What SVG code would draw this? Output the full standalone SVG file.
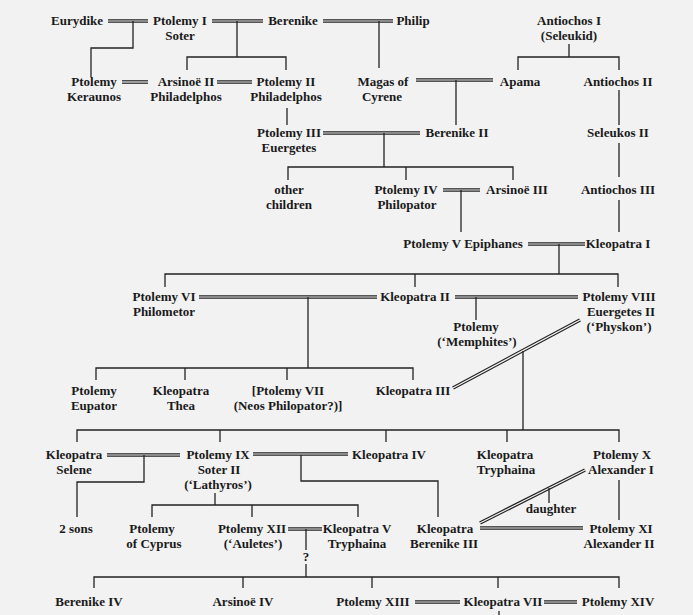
<svg xmlns="http://www.w3.org/2000/svg" xmlns:xlink="http://www.w3.org/1999/xlink" width="693" height="615" viewBox="0 0 693 615">
<style>
text { font-family: "Liberation Serif", "Times New Roman", serif; font-size: 13px; font-weight: bold; fill: #1a1a1a; text-anchor: middle; }
.single { fill: none; stroke: #222; stroke-width: 1.3; }
.dblOuter { fill: none; stroke: #222; stroke-width: 3.6; }
.dblInner { fill: none; stroke: #f2f2f2; stroke-width: 1.2; }
</style>
<defs>
<g id="marriages">
<path d="M108 21 H148"/>
<path d="M212 21 H263"/>
<path d="M323 21 H393"/>
<path d="M122 82 H148"/>
<path d="M217 82 H252"/>
<path d="M416 80 H493"/>
<path d="M323 133 H420"/>
<path d="M443 190 H480"/>
<path d="M528 244 H585"/>
<path d="M199 297 H377"/>
<path d="M455 297 H578"/>
<path d="M453 388 L580 320"/>
<path d="M107 455 H180"/>
<path d="M253 454 H348"/>
<path d="M288 529 H322"/>
<path d="M480 523 L585 470"/>
<path d="M480 528 H583"/>
<path d="M415 602 H460"/>
<path d="M544 602 H577"/>
</g>
</defs>
<rect width="693" height="615" fill="#f2f2f2"/>
<g id="connectors">
<use xlink:href="#marriages" href="#marriages" class="dblOuter"/>
<use xlink:href="#marriages" href="#marriages" class="dblInner"/>
<g class="single">
<path d="M133 21 V48 H91 V77"/>
<path d="M237 21 V57 M187 70 V57 H286 V70"/>
<path d="M379 21 V68"/>
<path d="M569 44 V57 M518 70 V57 H619 V70"/>
<path d="M287 108 V125"/>
<path d="M456 80 V125"/>
<path d="M619 90 V125"/>
<path d="M384 133 V167 M288 180 V167 H513 V180 M406 167 V180"/>
<path d="M619 143 V177"/>
<path d="M461 190 V232"/>
<path d="M619 200 V232"/>
<path d="M559 244 V274 M165 287 V274 H618 V287 M415 274 V287"/>
<path d="M308 297 V368 M96 380 V368 H413 V380 M185 368 V380 M287 368 V380"/>
<path d="M476 297 V320"/>
<path d="M523 351 V430 M77 442 V430 H619 V442 M220 430 V442 M386 430 V442 M507 430 V442"/>
<path d="M144 455 V482 H77 V517"/>
<path d="M301 455 V481 H438 V517"/>
<path d="M215 493 V505 M152 517 V505 H358 V517 M252 505 V517"/>
<path d="M306 529 V550 M306 564 V577 M94 588 V577 H619 V588 M243 577 V588 M372 577 V588 M498 577 V588"/>
<path d="M549 488 V503"/>
<path d="M619 480 V520"/>
<path d="M499 611 V615"/>
</g>
</g>
<g id="eurydike"><text x="77" y="25">Eurydike</text></g>
<g id="ptolemy1"><text x="180" y="25">Ptolemy I<tspan x="180" dy="15">Soter</tspan></text></g>
<g id="berenike"><text x="293" y="25">Berenike</text></g>
<g id="philip"><text x="413" y="25">Philip</text></g>
<g id="antiochos1"><text x="569" y="25">Antiochos I<tspan x="569" dy="15">(Seleukid)</tspan></text></g>
<g id="keraunos"><text x="94" y="86">Ptolemy<tspan x="94" dy="15">Keraunos</tspan></text></g>
<g id="arsinoe2"><text x="186" y="86">Arsinoë II<tspan x="186" dy="15">Philadelphos</tspan></text></g>
<g id="ptolemy2"><text x="286" y="86">Ptolemy II<tspan x="286" dy="15">Philadelphos</tspan></text></g>
<g id="magas"><text x="383" y="86">Magas of<tspan x="382" dy="15">Cyrene</tspan></text></g>
<g id="apama"><text x="520" y="86">Apama</text></g>
<g id="antiochos2"><text x="618" y="86">Antiochos II</text></g>
<g id="ptolemy3"><text x="289" y="137">Ptolemy III<tspan x="289" dy="15">Euergetes</tspan></text></g>
<g id="berenike2"><text x="457" y="137">Berenike II</text></g>
<g id="seleukos2"><text x="618" y="137">Seleukos II</text></g>
<g id="otherChildren"><text x="289" y="194">other<tspan x="289" dy="15">children</tspan></text></g>
<g id="ptolemy4"><text x="406" y="194">Ptolemy IV<tspan x="407" dy="15">Philopator</tspan></text></g>
<g id="arsinoe3"><text x="517" y="194">Arsinoë III</text></g>
<g id="antiochos3"><text x="618" y="194">Antiochos III</text></g>
<g id="ptolemy5"><text x="463" y="248">Ptolemy V Epiphanes</text></g>
<g id="kleopatra1"><text x="618" y="248">Kleopatra I</text></g>
<g id="ptolemy6"><text x="164" y="301">Ptolemy VI<tspan x="164" dy="15">Philometor</tspan></text></g>
<g id="kleopatra2"><text x="415" y="301">Kleopatra II</text></g>
<g id="ptolemy8"><text x="619" y="301">Ptolemy VIII<tspan x="621" dy="15">Euergetes II</tspan><tspan x="619" dy="15">(‘Physkon’)</tspan></text></g>
<g id="memphites"><text x="476" y="331">Ptolemy<tspan x="477" dy="15">(‘Memphites’)</tspan></text></g>
<g id="eupator"><text x="94" y="395">Ptolemy<tspan x="94" dy="15">Eupator</tspan></text></g>
<g id="thea"><text x="181" y="395">Kleopatra<tspan x="181" dy="15">Thea</tspan></text></g>
<g id="ptolemy7"><text x="288" y="395">[Ptolemy VII<tspan x="288" dy="15">(Neos Philopator?)]</tspan></text></g>
<g id="kleopatra3"><text x="413" y="395">Kleopatra III</text></g>
<g id="selene"><text x="74" y="459">Kleopatra<tspan x="74" dy="15">Selene</tspan></text></g>
<g id="ptolemy9"><text x="218" y="459">Ptolemy IX<tspan x="219" dy="15">Soter II</tspan><tspan x="218" dy="15">(‘Lathyros’)</tspan></text></g>
<g id="kleopatra4"><text x="389" y="459">Kleopatra IV</text></g>
<g id="tryphaina"><text x="505" y="459">Kleopatra<tspan x="506" dy="15">Tryphaina</tspan></text></g>
<g id="ptolemy10"><text x="622" y="459">Ptolemy X<tspan x="621" dy="15">Alexander I</tspan></text></g>
<g id="daughter"><text x="551" y="513">daughter</text></g>
<g id="sons"><text x="76" y="533">2 sons</text></g>
<g id="cyprus"><text x="152" y="533">Ptolemy<tspan x="154" dy="15">of Cyprus</tspan></text></g>
<g id="ptolemy12"><text x="252" y="533">Ptolemy XII<tspan x="253" dy="15">(‘Auletes’)</tspan></text></g>
<g id="kleopatra5"><text x="357" y="533">Kleopatra V<tspan x="357" dy="15">Tryphaina</tspan></text></g>
<g id="berenike3"><text x="445" y="533">Kleopatra<tspan x="444" dy="15">Berenike III</tspan></text></g>
<g id="ptolemy11"><text x="621" y="533">Ptolemy XI<tspan x="619" dy="15">Alexander II</tspan></text></g>
<g id="question"><text x="306" y="561">?</text></g>
<g id="berenike4"><text x="89" y="606">Berenike IV</text></g>
<g id="arsinoe4"><text x="243" y="606">Arsinoë IV</text></g>
<g id="ptolemy13"><text x="373" y="606">Ptolemy XIII</text></g>
<g id="kleopatra7"><text x="503" y="606">Kleopatra VII</text></g>
<g id="ptolemy14"><text x="618" y="606">Ptolemy XIV</text></g>
</svg>
